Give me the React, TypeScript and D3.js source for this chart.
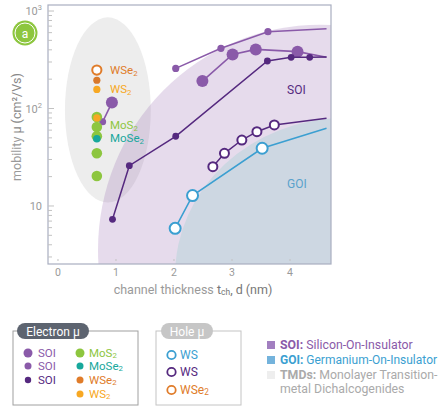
import React from "react";
import * as d3 from "d3";

// channel thickness (nm) and mobility (cm2/Vs)
const soiTopX = [2.03, 2.81, 3.62, 4.63];
const soiTopY = [258, 414, 614, 658];
const soiBigX = [2.49, 3.01, 3.41, 4.13, 4.63];
const soiBigY = [191, 359, 404, 383, 335];
const soiShortX = [0.77, 0.93];
const soiShortY = [73, 115];
const soiDarkX = [0.94, 1.23, 2.03, 3.61, 4.02, 4.34, 4.63];
const soiDarkY = [7.3, 25.9, 51.9, 307, 335, 335, 337];
const wsHoleX = [2.67, 2.87, 3.17, 3.43, 3.73, 4.63];
const wsHoleY = [25.3, 34.7, 47.5, 57.8, 67.8, 79.4];
const goiX = [2.02, 2.32, 3.52, 4.63];
const goiY = [5.9, 12.8, 39.1, 62.7];

const tmdX = 0.67;
const mos2Y = [81.6, 64.6, 52, 34.7, 20.3];
const mose2Y = [49];
const ws2Y = [157, 80];
const wse2ElY = [195];
const wse2HoleY = [248];

const xTicks = [0, 1, 2, 3, 4];
const yMajor = [10, 100, 1000];

const W = 443, H = 406;
const L = 48, T = 5, R = 331, B = 264;

const x = d3.scaleLinear().domain([-0.172, 4.707]).range([L, R]);
const y = d3.scaleLog().domain([2.54, 1153]).range([B, T]);

const purple = "#8a5aa9";
const dark = "#55297f";
const blue = "#3b9fd1";
const green = "#8dc63f";
const teal = "#17a89c";
const orange = "#e07c2a";
const yellow = "#f7a823";
const grayText = "#9a9a9a";

const line = d3.line<[number, number]>().x(d => x(d[0])).y(d => y(d[1]));
const zip = (xs: number[], ys: number[]) => xs.map((v, i) => [v, ys[i]] as [number, number]);

type Series = { xs: number[]; ys: number[]; color: string; r: number[]; open?: boolean; sw: number };
const series: Series[] = [
  { xs: soiTopX, ys: soiTopY, color: purple, r: [3.6, 3.6, 3.6, 0], sw: 1.6 },
  { xs: soiBigX, ys: soiBigY, color: purple, r: [6, 6, 6, 6, 0], sw: 1.6 },
  { xs: soiDarkX, ys: soiDarkY, color: dark, r: [3.4, 3.4, 3.4, 3.4, 3.4, 3.4, 0], sw: 1.5 },
  { xs: wsHoleX, ys: wsHoleY, color: dark, r: [4.5, 4.5, 4.5, 4.5, 4.5, 0], open: true, sw: 1.5 },
  { xs: goiX, ys: goiY, color: blue, r: [5.5, 5.5, 5.5, 0], open: true, sw: 1.5 },
];

// background regions: centre (nm, mobility), radii (nm, decades)
function ellipsePath(cx: number, cy: number, rxNm: number, ryDec: number) {
  const px = x(cx), py = y(cy);
  const rx = x(cx + rxNm) - x(cx);
  const ry = y(cy) - y(cy * Math.pow(10, ryDec));
  return { px, py, rx, ry };
}
const soiRegion = ellipsePath(4.52, 3.54, 3.83, 2.31);
const goiRegion = ellipsePath(4.95, 1.96, 2.93, 1.61);
const tmdRegion = ellipsePath(0.86, 96.6, 0.74, 0.95);

function minorTicks() {
  const out: number[] = [];
  for (const e of [1, 10, 100]) for (let k = 1; k <= 9; k++) {
    const v = k * e;
    if (v >= 2.54 && v <= 1153) out.push(v);
  }
  out.push(1000);
  return out;
}

const Sub = ({ t, dy = 2 }: { t: string; dy?: number }) => (
  <tspan fontSize="0.68em" dy={dy}>{t}</tspan>
);

export default function App() {
  return (
    <div style={{ position: "absolute", left: 0, top: 0 }}>
      <svg width={W} height={H} fontFamily="Roboto, sans-serif">
        <defs>
          <clipPath id="plot"><rect x={L} y={T} width={R - L} height={B - T} /></clipPath>
        </defs>
        <rect x={0} y={0} width={W} height={H} fill="#fff" />
        <g clipPath="url(#plot)">
          <ellipse cx={tmdRegion.px} cy={tmdRegion.py} rx={tmdRegion.rx} ry={tmdRegion.ry} fill="#ededed" />
          <ellipse cx={soiRegion.px} cy={soiRegion.py} rx={soiRegion.rx} ry={soiRegion.ry} fill="rgb(140,90,170)" fillOpacity={0.22} />
          <ellipse cx={goiRegion.px} cy={goiRegion.py} rx={goiRegion.rx} ry={goiRegion.ry} fill="#cdd7e2" />
        </g>
        <rect x={L} y={T} width={R - L} height={B - T} fill="none" stroke="#a9aec0" strokeWidth={1.2} />

        {minorTicks().map((v, i) => (
          <line key={i} x1={L} x2={L + (yMajor.includes(v) ? 6 : 4)} y1={y(v)} y2={y(v)} stroke="#c2c2c2" />
        ))}
        {xTicks.map(t => (
          <g key={t}>
            <line x1={x(t)} x2={x(t)} y1={B - 5} y2={B - 3} stroke="#c2c2c2" />
            <text x={x(t)} y={B + 12} textAnchor="middle" fontSize={10.5} fill={grayText}>{t}</text>
          </g>
        ))}
        {yMajor.map(v => (
          <text key={v} x={L - 6} y={y(v) + 4} textAnchor="end" fontSize={11} fill={grayText}>
            10{v > 10 && <tspan fontSize={7.5} dy={-5}>{Math.log10(v)}</tspan>}
          </text>
        ))}

        <text transform={`translate(21,127) rotate(-90)`} textAnchor="middle" fontSize={12.5} fill={grayText}>
          mobility{"  "}<tspan fill="#888">μ  (cm²/Vs)</tspan>
        </text>
        <text x={193} y={294} textAnchor="middle" fontSize={12.5} fill={grayText}>
          channel thickness  <tspan fill="#777">t<Sub t="ch" dy={1} /><tspan dy={-1}>, d  (nm)</tspan></tspan>
        </text>

        <circle cx={25} cy={33} r={12.5} fill={green} />
        <circle cx={25} cy={33} r={10} fill="none" stroke="#fff" strokeWidth={1} />
        <text x={25} y={37.5} textAnchor="middle" fontSize={12} fill="#fff">a</text>

        {series.map((s, i) => (
          <g key={i}>
            <path d={line(zip(s.xs, s.ys)) || ""} fill="none" stroke={s.color} strokeWidth={s.sw} />
            {zip(s.xs, s.ys).map((p, j) => s.r[j] > 0 && (
              <circle key={j} cx={x(p[0])} cy={y(p[1])} r={s.r[j]}
                fill={s.open ? "#fff" : s.color} stroke={s.open ? s.color : "none"} strokeWidth={2} />
            ))}
          </g>
        ))}

        <path d={line(zip(soiShortX, soiShortY)) || ""} fill="none" stroke={purple} strokeWidth={1.6} />
        <circle cx={x(soiShortX[0])} cy={y(soiShortY[0])} r={3.5} fill={purple} />
        {mos2Y.map((v, i) => <circle key={i} cx={x(tmdX)} cy={y(v)} r={5.3} fill={green} />)}
        <circle cx={x(soiShortX[1])} cy={y(soiShortY[1])} r={6} fill={purple} />
        {mose2Y.map((v, i) => <circle key={i} cx={x(tmdX)} cy={y(v)} r={3.8} fill={teal} />)}
        {ws2Y.map((v, i) => <circle key={i} cx={x(tmdX)} cy={y(v)} r={3.6} fill={yellow} />)}
        {wse2ElY.map((v, i) => <circle key={i} cx={x(tmdX)} cy={y(v)} r={3.6} fill="#d9792b" />)}
        {wse2HoleY.map((v, i) => <circle key={i} cx={x(tmdX)} cy={y(v)} r={4.6} fill="#fff" stroke={orange} strokeWidth={2} />)}

        <g fontSize={11.5}>
          <text x={110} y={74} fill={orange}>WSe<Sub t="2" /></text>
          <text x={110} y={93} fill={yellow}>WS<Sub t="2" /></text>
          <text x={110} y={129} fill={green}>MoS<Sub t="2" dy={1.5} /></text>
          <text x={110} y={142} fill={teal}>MoSe<Sub t="2" dy={1.5} /></text>
          <text x={287} y={94} fill={dark} fontSize={12}>SOI</text>
          <text x={287} y={188} fill="#5aa2cc" fontSize={12}>GOI</text>
        </g>

        {/* legends */}
        <rect x={13} y={331} width={125} height={74} fill="none" stroke="#a0a0a0" />
        <rect x={17} y={323} width={72} height={16} rx={8} fill="#5d6470" />
        <text x={53} y={335.5} textAnchor="middle" fontSize={12} fill="#fff">Electron μ</text>
        <g fontSize={11.5}>
          <circle cx={28} cy={353} r={4.5} fill={purple} /><text x={38} y={357} fill={purple}>SOI</text>
          <circle cx={28} cy={366} r={3.5} fill={purple} /><text x={38} y={370} fill={purple}>SOI</text>
          <circle cx={28} cy={380} r={3.2} fill={dark} /><text x={38} y={384} fill={dark}>SOI</text>
          <circle cx={80} cy={353} r={4.5} fill={green} /><text x={89} y={357} fill={green}>MoS<Sub t="2" dy={1} /></text>
          <circle cx={80} cy={366} r={3.5} fill={teal} /><text x={89} y={370} fill={teal}>MoSe<Sub t="2" dy={1} /></text>
          <circle cx={80} cy={380} r={3.5} fill={orange} /><text x={89} y={384} fill={orange}>WSe<Sub t="2" dy={1} /></text>
          <circle cx={80} cy={394} r={3.5} fill={yellow} /><text x={89} y={398} fill={yellow}>WS<Sub t="2" dy={1} /></text>
        </g>

        <rect x={156} y={331} width={85} height={74} fill="none" stroke="#c4c4c4" />
        <rect x={161} y={323} width={52} height={16} rx={8} fill="#c6c6c6" />
        <text x={187} y={335.5} textAnchor="middle" fontSize={12} fill="#fff">Hole μ</text>
        <g fontSize={12}>
          <circle cx={171.5} cy={355} r={4.2} fill="#fff" stroke={blue} strokeWidth={1.8} /><text x={180} y={359} fill={blue}>WS</text>
          <circle cx={171.5} cy={372} r={4.2} fill="#fff" stroke={dark} strokeWidth={1.8} /><text x={180} y={376} fill={dark}>WS</text>
          <circle cx={171.5} cy={390} r={4.2} fill="#fff" stroke={orange} strokeWidth={1.8} /><text x={180} y={394} fill={orange}>WSe<Sub t="2" dy={1} /></text>
        </g>

        <g fontSize={12.3}>
          <rect x={267} y={341} width={8} height={8} fill="#a27fc0" />
          <text x={280} y={349} fill={purple}><tspan fontWeight="bold">SOI:</tspan> Silicon-On-Insulator</text>
          <rect x={267} y={356} width={8} height={8} fill="#74b3dc" />
          <text x={280} y={364} fill={blue} fontSize={12}><tspan fontWeight="bold">GOI:</tspan> Germanium-On-Insulator</text>
          <rect x={267} y={371} width={8} height={8} fill="#eeeeee" />
          <text x={280} y={379} fill="#aaa"><tspan fontWeight="bold">TMDs:</tspan> Monolayer Transition-</text>
          <text x={280} y={393} fill="#aaa">metal Dichalcogenides</text>
        </g>
      </svg>
    </div>
  );
}
